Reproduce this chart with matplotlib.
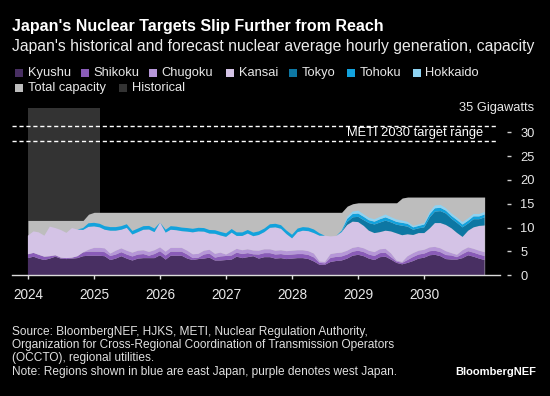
import matplotlib
matplotlib.use('Agg')
import matplotlib.pyplot as plt
from matplotlib.patches import Rectangle
import pandas as pd

plt.rcParams['font.family'] = ['Liberation Sans', 'DejaVu Sans']

# ---------------- data (monthly, Jan 2024 - Dec 2030, GW) ----------------
months = pd.date_range('2024-01-01', periods=84, freq='MS')

kyushu = [3.6, 3.9, 3.5, 3.2, 3.5, 3.9, 3.5, 3.4, 3.5, 3.6, 4.0, 4.1,
          4.1, 4.1, 4.0, 3.2, 3.5, 4.0, 3.5, 3.1, 3.5, 3.6, 3.6, 3.6,
          4.2, 3.3, 4.1, 4.1, 4.1, 3.5, 3.2, 3.4, 3.5, 3.7, 3.1, 3.1,
          3.2, 3.3, 3.9, 3.6, 3.8, 4.0, 3.5, 3.8, 3.8, 3.5, 3.6, 3.4,
          3.5, 3.6, 3.6, 3.4, 2.9, 2.2, 2.2, 2.8, 3.0, 3.1, 3.5, 4.1,
          4.3, 4.0, 3.5, 3.2, 3.8, 3.9, 3.3, 2.6, 2.3, 2.6, 3.0, 3.5,
          3.7, 4.2, 4.3, 4.0, 3.4, 3.3, 3.3, 3.6, 4.2, 3.9, 3.5, 3.2]

shikoku = [0.8, 0.8, 0.8, 0.7, 0.5, 0.3, 0.2, 0.2, 0.2, 0.4, 0.8, 0.85,
           0.85, 0.85, 0.85, 0.85, 0.85, 0.85, 0.85, 0.85, 0.85, 0.85, 0.5, 0.85,
           0.85, 0.85, 0.85, 0.85, 0.85, 0.85, 0.4, 0.3, 0.85, 0.85, 0.6, 0.85,
           0.85, 0.85, 0.85, 0.85, 0.85, 0.4, 0.85, 0.85, 0.85, 0.85, 0.85, 0.85,
           0.85, 0.85, 0.85, 0.85, 0.85, 0.4, 0.3, 0.85, 0.85, 0.85, 0.85, 0.85,
           0.85, 0.85, 0.85, 0.85, 0.85, 0.85, 0.5, 0.3, 0.3, 0.6, 0.85, 0.85,
           0.85, 0.85, 0.85, 0.85, 0.85, 0.85, 0.5, 0.85, 0.85, 0.85, 0.85, 0.85]

chugoku = [0, 0, 0, 0, 0, 0, 0, 0, 0, 0, 0, 0.4,
           0.8, 0.8, 0.8, 0.5, 0.8, 0.8, 0.8, 0.8, 0.8, 0.8, 0.8, 0.8,
           0.8, 0.8, 0.8, 0.8, 0.8, 0.8, 0.8, 0.8, 0.8, 0.8, 0.8, 0.8,
           0.3, 0.8, 0.8, 0.8, 0.8, 0.8, 0.8, 0.8, 0.8, 0.8, 0.8, 0.8,
           0.8, 0.8, 0.8, 0.8, 0.8, 0.3, 0.3, 0.8, 0.8, 0.8, 0.8, 0.8,
           0.8, 0.8, 0.8, 0.8, 0.8, 0.8, 0.8, 0.2, 0.2, 0.8, 0.8, 0.8,
           0.8, 0.8, 0.8, 0.8, 0.8, 0.5, 0.5, 0.8, 0.8, 0.8, 0.8, 0.8]

kansai = [3.9, 4.5, 4.7, 4.4, 6.2, 5.7, 5.8, 5.3, 6.2, 5.6, 4.7, 4.8,
          4.5, 4.3, 3.9, 4.8, 4.2, 3.9, 4.8, 3.8, 3.9, 4.3, 4.7, 3.8,
          5.2, 4.0, 3.8, 3.7, 3.5, 4.0, 4.6, 4.7, 4.0, 3.4, 4.2, 3.6,
          3.7, 4.0, 2.7, 3.0, 3.3, 3.0, 3.3, 3.6, 4.5, 4.9, 4.5, 3.6,
          2.6, 3.8, 4.1, 4.2, 4.3, 5.4, 5.5, 3.7, 3.6, 4.3, 5.4, 5.5,
          5.2, 4.7, 4.2, 4.0, 3.6, 3.8, 4.6, 5.7, 5.6, 4.6, 3.8, 3.7,
          3.5, 4.0, 5.0, 5.3, 5.5, 5.2, 4.6, 2.8, 3.5, 4.5, 5.2, 5.6]

tokyo = [0] * 58 + [0.6, 0.9,
         1.1, 1.2, 1.6, 1.8, 2.0, 2.1, 1.9, 1.8, 2.0, 1.6, 1.1, 1.0,
         1.2, 2.3, 2.4, 2.5, 2.4, 2.0, 2.1, 2.0, 1.5, 1.7, 1.4, 1.7]

tohoku = [0, 0, 0, 0, 0, 0, 0, 0, 0, 0, 0.4, 0.75,
          0.75, 0.75, 0.75, 0.75, 0.75, 0.75, 0.75, 0.75, 0.75, 0.75, 0.75, 0.75,
          0, 0.6, 0.75, 0.75, 0.75, 0.75, 0.75, 0.75, 0.75, 0.75, 0.75, 0.75,
          0.75, 0.75, 0.75, 0.75, 0.75, 0.75, 0.75, 0.75, 0.75, 0.75, 0.75, 0.75,
          0.75, 0.75, 0.75, 0.75, 0.75, 0.5, 0, 0, 0, 0.3, 0.7, 0.7,
          0.7, 0.7, 0.6, 0.6, 0.7, 0.7, 0.6, 0.6, 0.6, 0.6, 0.5, 0.5,
          0.6, 0.7, 0.7, 0.7, 0.6, 0.6, 0.6, 0.6, 0.6, 0.6, 0.6, 0.6]

hokkaido = [0] * 58 + [0.4, 0.5,
            0.6, 0.5, 0.5, 0.5, 0.5, 0.6, 0.5, 0.5, 0.5, 0.4, 0.3, 0.3,
            0.3, 0.5, 0.6, 0.6, 0.5, 0.5, 0.5, 0.5, 0.5, 0.5, 0.5, 0.5]

capacity = [11.5] * 11 + [12.8] + [13.2] * 46 + [14.5, 15.0] + [15.2] * 8 + [16.2] + [16.4] * 15

meti_low, meti_high = 28.2, 31.3
hist_start, hist_end = '2024-01-01', '2025-02-01'
years = [2024, 2025, 2026, 2027, 2028, 2029, 2030]
y_ticks = [0, 5, 10, 15, 20, 25, 30]

series_names = ['Kyushu', 'Shikoku', 'Chugoku', 'Kansai', 'Tokyo', 'Tohoku', 'Hokkaido']
series_colors = ['#482f62', '#8a5cb8', '#b697d8', '#d4c3e6', '#0d77a3', '#12a2dd', '#8fd3f2']
cap_color = '#bdbdbd'
hist_color = '#333333'

# ---------------- figure ----------------
W, H = 550, 396
fig = plt.figure(figsize=(W / 100, H / 100), dpi=100, facecolor='black')
ax = fig.add_axes([12 / W, 1 - 275.3 / H, 488 / W, 167 / H])
ax.set_facecolor('black')

ax.axvspan(pd.Timestamp(hist_start), pd.Timestamp(hist_end), ymin=0, ymax=1,
           color=hist_color, lw=0, zorder=0)
ax.fill_between(months, 0, capacity, color=cap_color, lw=0, zorder=1)
ax.stackplot(months, kyushu, shikoku, chugoku, kansai, tokyo, tohoku, hokkaido,
             colors=series_colors, lw=0, zorder=2)

for yv in (meti_low, meti_high):
    ax.axhline(yv, xmin=0, xmax=0.996, color='white', lw=1.0,
               ls=(0, (3, 2)), zorder=3)
ax.text(pd.Timestamp('2030-11-22'), (meti_low + meti_high) / 2, 'METI 2030 target range',
        ha='right', va='center', color='white', fontsize=9.3, zorder=4)

ax.set_xlim(pd.Timestamp('2023-10-05'), pd.Timestamp('2031-02-24'))
ax.set_ylim(0, 35)

for s in ['top', 'left', 'right']:
    ax.spines[s].set_visible(False)
ax.spines['bottom'].set_color('#dcdcdc')
ax.spines['bottom'].set_linewidth(1.0)
ax.spines['bottom'].set_zorder(5)

ax.set_xticks([pd.Timestamp(f'{y}-01-01') for y in years])
ax.set_xticklabels([str(y) for y in years])
ax.tick_params(axis='x', length=3, width=1, color='#dcdcdc', labelcolor='#e8e8e8',
               labelsize=9.8, pad=6.0)

ax.yaxis.tick_right()
ax.spines['right'].set_position(('outward', 5))
ax.set_yticks(y_ticks)
ax.set_yticklabels([str(v) for v in y_ticks])
ax.tick_params(axis='y', length=3, width=1, color='#cfcfcf', labelcolor='#e8e8e8',
               labelsize=9.3, pad=6.5)

fig.text(534 / W, 1 - 108.5 / H, '35 Gigawatts', ha='right', va='center',
         color='#e8e8e8', fontsize=9.3)

# ---------------- titles ----------------
fig.text(12 / W, 1 - 26.7 / H, "Japan's Nuclear Targets Slip Further from Reach",
         ha='left', va='center', color='white', fontsize=11.5, fontweight='bold')
fig.text(12 / W, 1 - 46 / H,
         "Japan's historical and forecast nuclear average hourly generation, capacity",
         ha='left', va='center', color='#ececec', fontsize=11.35)

# ---------------- legend ----------------
row1_x = [15, 81, 149, 226, 289.3, 347.3, 412.7]
legend_items = list(zip(series_names, series_colors, row1_x, [72.8] * 7))
legend_items += [('Total capacity', cap_color, 15, 88.3), ('Historical', hist_color, 119, 88.3)]
sq = 7.8
for name, col, x0, yc in legend_items:
    fig.add_artist(Rectangle((x0 / W, 1 - (yc + sq / 2) / H), sq / W, sq / H,
                             transform=fig.transFigure, facecolor=col, edgecolor='none'))
    fig.text((x0 + 12.7) / W, 1 - yc / H, name, ha='left', va='center',
             color='#e8e8e8', fontsize=9.3)

# ---------------- footnotes ----------------
foot = ["Source: BloombergNEF, HJKS, METI, Nuclear Regulation Authority,",
        "Organization for Cross-Regional Coordination of Transmission Operators",
        "(OCCTO), regional utilities.",
        "Note: Regions shown in blue are east Japan, purple denotes west Japan."]
for i, line in enumerate(foot):
    fig.text(12 / W, 1 - (331.7 + 13.35 * i) / H, line, ha='left', va='center',
             color='#e0e0e0', fontsize=8.6)
fig.text(536 / W, 1 - 371.7 / H, 'BloombergNEF', ha='right', va='center',
         color='white', fontsize=8.0, fontweight='bold')

fig.savefig('out.png', dpi=100, facecolor='black')
